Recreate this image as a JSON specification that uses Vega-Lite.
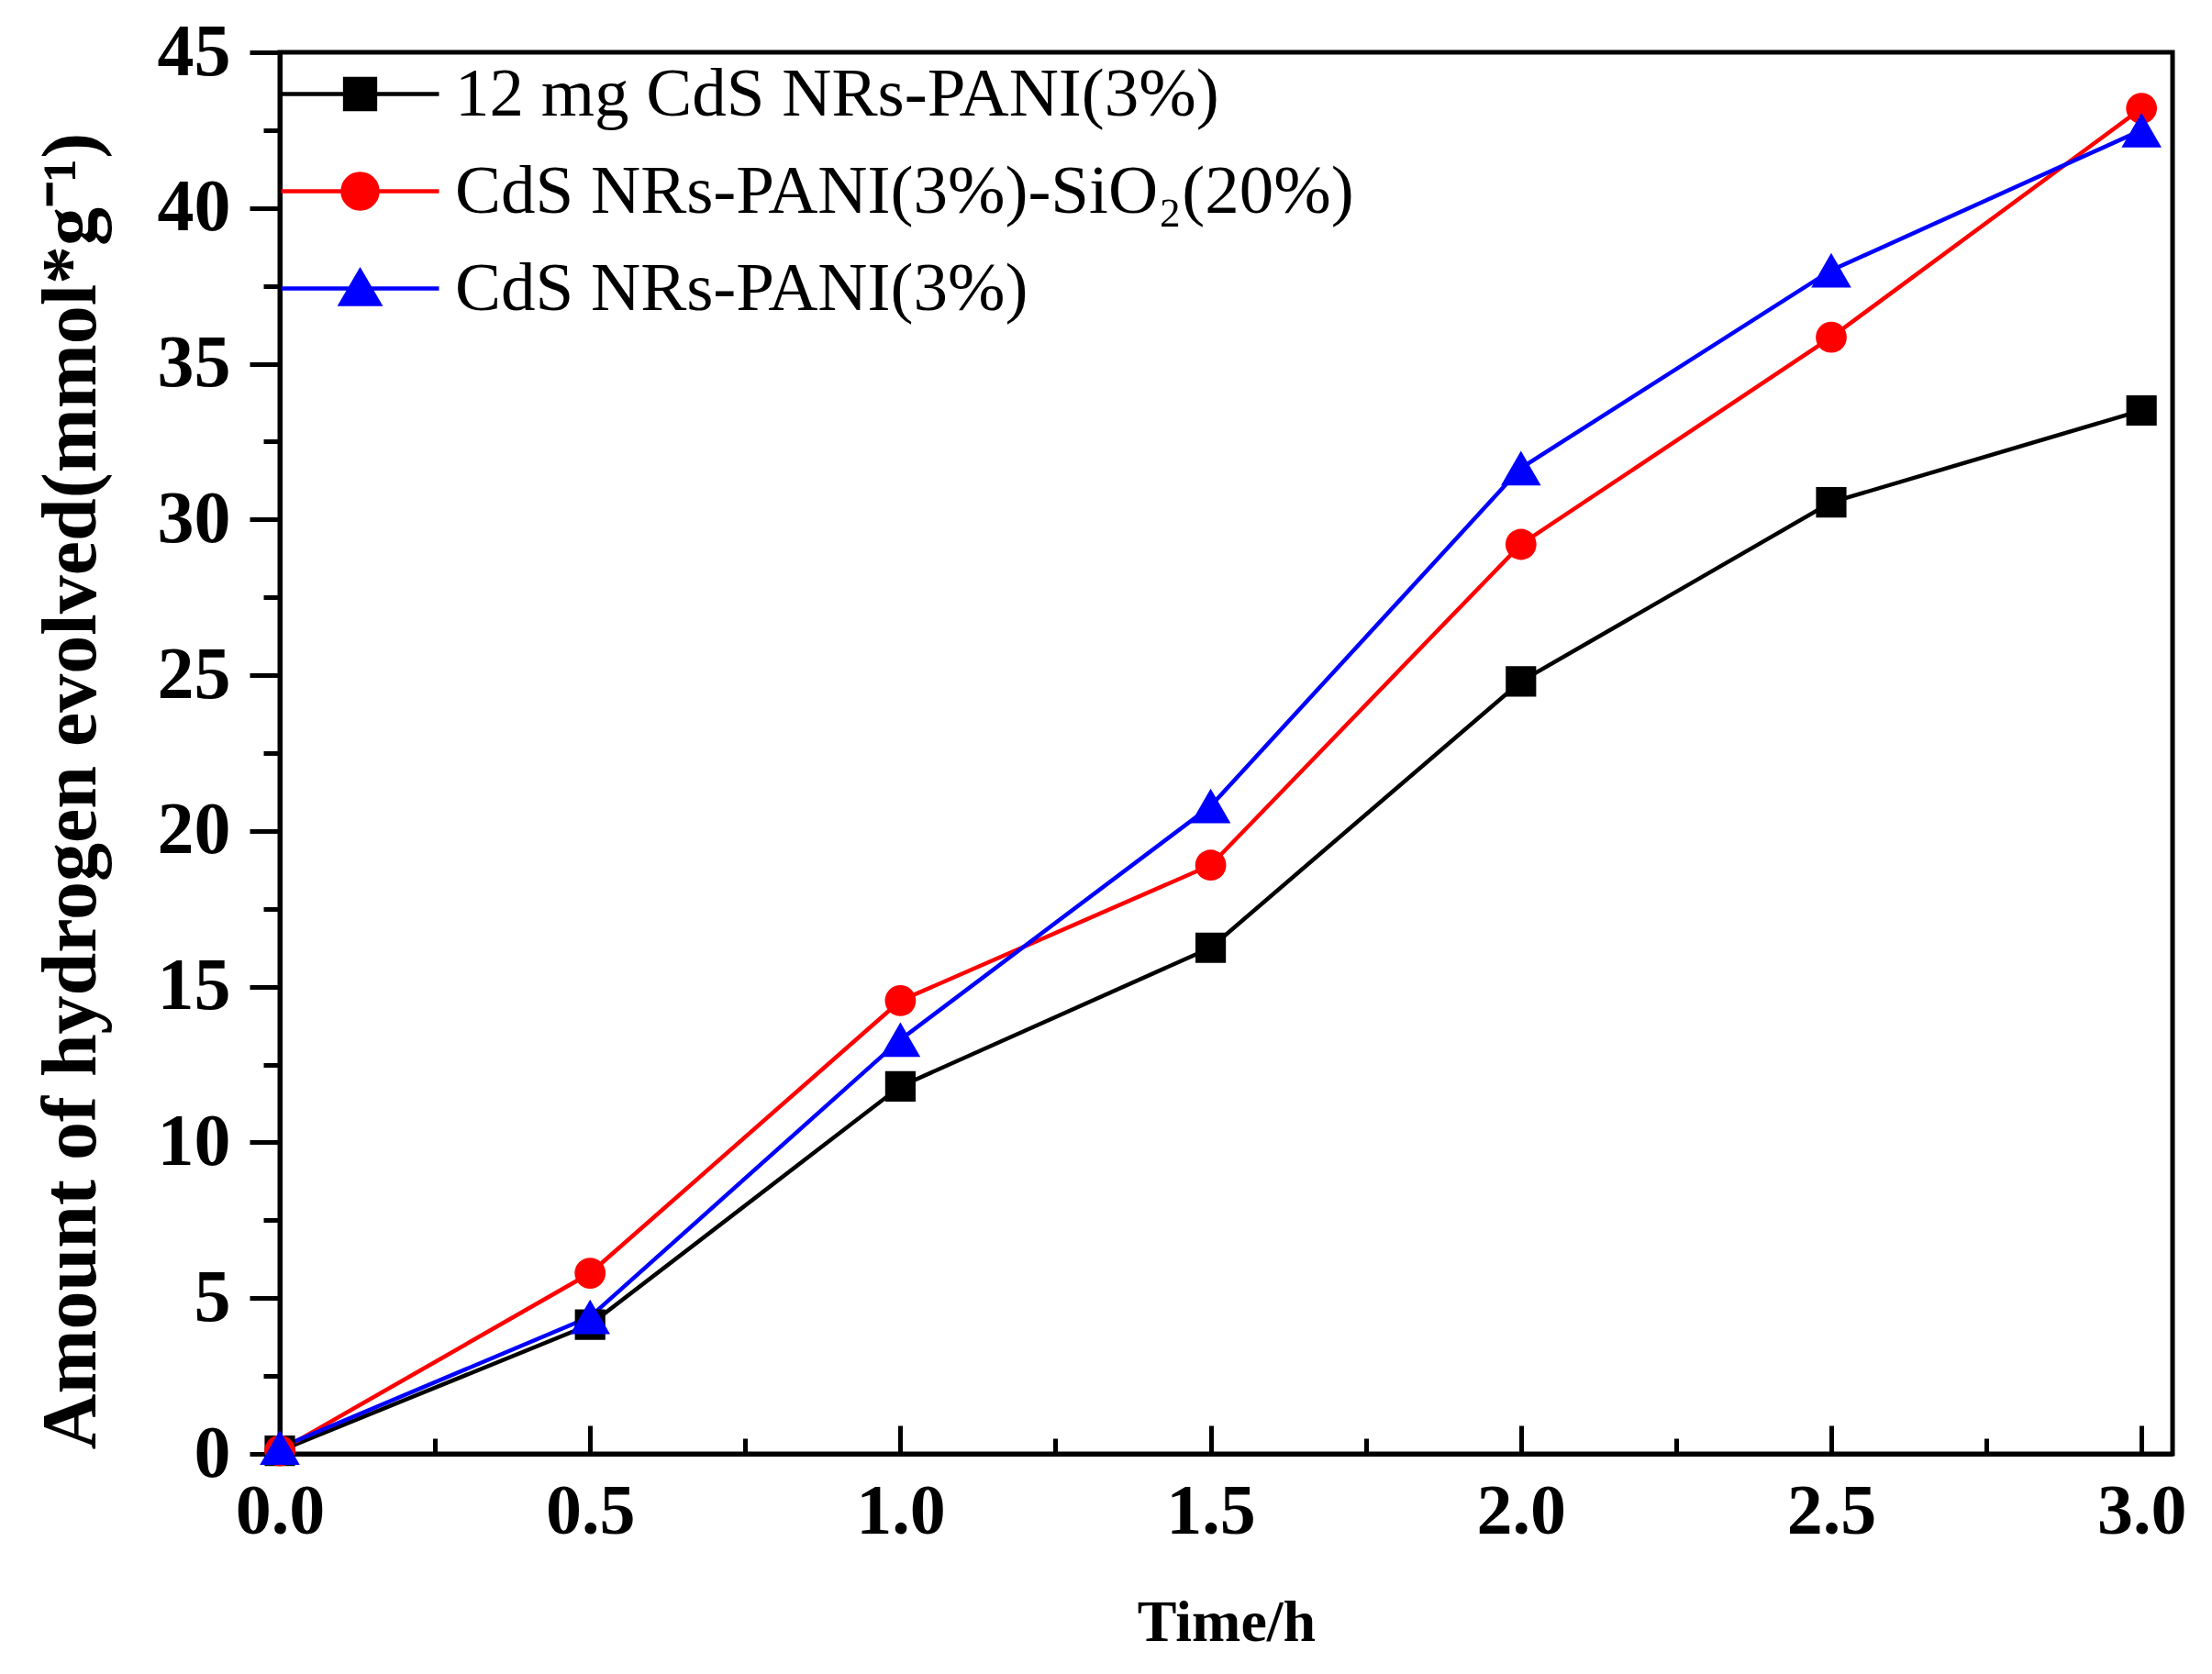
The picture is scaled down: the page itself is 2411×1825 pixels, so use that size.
{
  "$schema": "https://vega.github.io/schema/vega-lite/v6.json",
  "autosize": "none",
  "padding": {"left": 305, "top": 57, "right": 43, "bottom": 240},
  "width": 2063,
  "height": 1528,
  "background": "white",
  "config": {
    "font": "Liberation Serif",
    "view": {"stroke": "black", "strokeWidth": 5}
  },
  "data": {
    "values": [
      {"t": 0.0, "h2": 0.1, "sample": "12 mg CdS NRs-PANI(3%)"},
      {"t": 0.5, "h2": 4.15, "sample": "12 mg CdS NRs-PANI(3%)"},
      {"t": 1.0, "h2": 11.8, "sample": "12 mg CdS NRs-PANI(3%)"},
      {"t": 1.5, "h2": 16.25, "sample": "12 mg CdS NRs-PANI(3%)"},
      {"t": 2.0, "h2": 24.8, "sample": "12 mg CdS NRs-PANI(3%)"},
      {"t": 2.5, "h2": 30.55, "sample": "12 mg CdS NRs-PANI(3%)"},
      {"t": 3.0, "h2": 33.5, "sample": "12 mg CdS NRs-PANI(3%)"},
      {"t": 0.0, "h2": 0.1, "sample": "CdS NRs-PANI(3%)-SiO₂(20%)"},
      {"t": 0.5, "h2": 5.8, "sample": "CdS NRs-PANI(3%)-SiO₂(20%)"},
      {"t": 1.0, "h2": 14.55, "sample": "CdS NRs-PANI(3%)-SiO₂(20%)"},
      {"t": 1.5, "h2": 18.9, "sample": "CdS NRs-PANI(3%)-SiO₂(20%)"},
      {"t": 2.0, "h2": 29.2, "sample": "CdS NRs-PANI(3%)-SiO₂(20%)"},
      {"t": 2.5, "h2": 35.85, "sample": "CdS NRs-PANI(3%)-SiO₂(20%)"},
      {"t": 3.0, "h2": 43.2, "sample": "CdS NRs-PANI(3%)-SiO₂(20%)"},
      {"t": 0.0, "h2": 0.2, "sample": "CdS NRs-PANI(3%)"},
      {"t": 0.5, "h2": 4.4, "sample": "CdS NRs-PANI(3%)"},
      {"t": 1.0, "h2": 13.3, "sample": "CdS NRs-PANI(3%)"},
      {"t": 1.5, "h2": 20.8, "sample": "CdS NRs-PANI(3%)"},
      {"t": 2.0, "h2": 31.65, "sample": "CdS NRs-PANI(3%)"},
      {"t": 2.5, "h2": 38.0, "sample": "CdS NRs-PANI(3%)"},
      {"t": 3.0, "h2": 42.5, "sample": "CdS NRs-PANI(3%)"}
    ]
  },
  "resolve": {"axis": {"x": "independent", "y": "independent"}},
  "encoding": {
    "x": {
      "field": "t",
      "type": "quantitative",
      "title": "Time/h",
      "scale": {"domain": [0, 3.05], "nice": false, "zero": false},
      "axis": {
        "orient": "bottom",
        "values": [0, 0.5, 1, 1.5, 2, 2.5, 3],
        "format": ".1f",
        "grid": false,
        "ticks": false,
        "tickSize": 0,
        "domainColor": "black",
        "domainWidth": 5,
        "labelFont": "Liberation Serif",
        "labelFontSize": 78,
        "labelFontWeight": "bold",
        "labelColor": "black",
        "labelPadding": 24,
        "labelFlush": false,
        "titleFont": "Liberation Serif",
        "titleFontSize": 64,
        "titleFontWeight": "bold",
        "titleColor": "black",
        "titlePadding": 50
      }
    },
    "y": {
      "field": "h2",
      "type": "quantitative",
      "title": "Amount of hydrogen evolved(mmol*g⁻¹)",
      "scale": {"domain": [0, 45], "nice": false},
      "axis": {
        "orient": "left",
        "values": [0, 5, 10, 15, 20, 25, 30, 35, 40, 45],
        "format": "d",
        "grid": false,
        "domainColor": "black",
        "domainWidth": 5,
        "tickColor": "black",
        "tickWidth": 5,
        "tickSize": 33,
        "labelFont": "Liberation Serif",
        "labelFontSize": 80,
        "labelFontWeight": "bold",
        "labelColor": "black",
        "labelPadding": 21,
        "labelFlush": false,
        "titleFont": "Liberation Serif",
        "titleFontSize": 84,
        "titleFontWeight": "bold",
        "titleColor": "black",
        "titlePadding": 50,
        "titleY": 805
      }
    },
    "color": {
      "field": "sample",
      "type": "nominal",
      "scale": {
        "domain": ["12 mg CdS NRs-PANI(3%)", "CdS NRs-PANI(3%)-SiO₂(20%)", "CdS NRs-PANI(3%)"],
        "range": ["#000000", "#ff0000", "#0000ff"]
      },
      "legend": {
        "title": null,
        "orient": "none",
        "legendX": 50,
        "legendY": 8,
        "padding": 0,
        "labelFont": "Liberation Serif",
        "labelFontSize": 75,
        "labelColor": "black",
        "labelLimit": 2000,
        "labelOffset": 66,
        "rowPadding": 30,
        "symbolSize": 1600,
        "symbolStrokeWidth": 4.5,
        "symbolOpacity": 1,
        "encode": {
          "symbols": {
            "update": {
              "shape": {"signal": "datum.value === '12 mg CdS NRs-PANI(3%)' ? 'M-4.3,0H4.3M-0.82,-0.82H0.82V0.82H-0.82Z' : datum.value === 'CdS NRs-PANI(3%)' ? 'M-4.3,0H4.3M0,-0.95L1.05,0.85H-1.05Z' : 'M-4.3,0H4.3M-0.95,0A0.95,0.95 0 1,0 0.95,0A0.95,0.95 0 1,0 -0.95,0Z'"},
              "fill": {"signal": "scale('color', datum.value)"},
              "stroke": {"signal": "scale('color', datum.value)"},
              "size": {"value": 1600},
              "strokeWidth": {"value": 4.5}
            }
          }
        }
      }
    }
  },
  "layer": [
    {
      "mark": {"type": "line", "strokeWidth": 4.5}
    },
    {
      "transform": [{"filter": "datum.sample === '12 mg CdS NRs-PANI(3%)'"}],
      "mark": {"type": "point", "filled": true, "opacity": 1, "shape": "square", "size": 1100},
      "encoding": {
        "x": {
          "field": "t",
          "type": "quantitative",
          "scale": {"domain": [0, 3.05], "nice": false, "zero": false},
          "axis": {
            "orient": "bottom",
            "title": null,
            "values": [0, 0.5, 1, 1.5, 2, 2.5, 3],
            "labels": false,
            "domain": false,
            "grid": false,
            "ticks": true,
            "tickColor": "black",
            "tickWidth": 5,
            "tickSize": -31
          }
        },
        "y": {
          "field": "h2",
          "type": "quantitative",
          "scale": {"domain": [0, 45], "nice": false},
          "axis": {
            "orient": "left",
            "title": null,
            "values": [2.5, 7.5, 12.5, 17.5, 22.5, 27.5, 32.5, 37.5, 42.5],
            "labels": false,
            "domain": false,
            "grid": false,
            "ticks": true,
            "tickColor": "black",
            "tickWidth": 5,
            "tickSize": 18
          }
        }
      }
    },
    {
      "transform": [{"filter": "datum.sample === 'CdS NRs-PANI(3%)-SiO₂(20%)'"}],
      "mark": {"type": "point", "filled": true, "opacity": 1, "shape": "circle", "size": 1140},
      "encoding": {
        "x": {
          "field": "t",
          "type": "quantitative",
          "scale": {"domain": [0, 3.05], "nice": false, "zero": false},
          "axis": {
            "orient": "bottom",
            "title": null,
            "values": [0.25, 0.75, 1.25, 1.75, 2.25, 2.75],
            "labels": false,
            "domain": false,
            "grid": false,
            "ticks": true,
            "tickColor": "black",
            "tickWidth": 5,
            "tickSize": -17
          }
        },
        "y": {
          "field": "h2",
          "type": "quantitative",
          "scale": {"domain": [0, 45], "nice": false},
          "axis": null
        }
      }
    },
    {
      "transform": [{"filter": "datum.sample === 'CdS NRs-PANI(3%)'"}],
      "mark": {"type": "point", "filled": true, "opacity": 1, "shape": "triangle-up", "size": 1900},
      "encoding": {
        "x": {
          "field": "t",
          "type": "quantitative",
          "scale": {"domain": [0, 3.05], "nice": false, "zero": false},
          "axis": null
        },
        "y": {
          "field": "h2",
          "type": "quantitative",
          "scale": {"domain": [0, 45], "nice": false},
          "axis": null
        }
      }
    }
  ]
}
